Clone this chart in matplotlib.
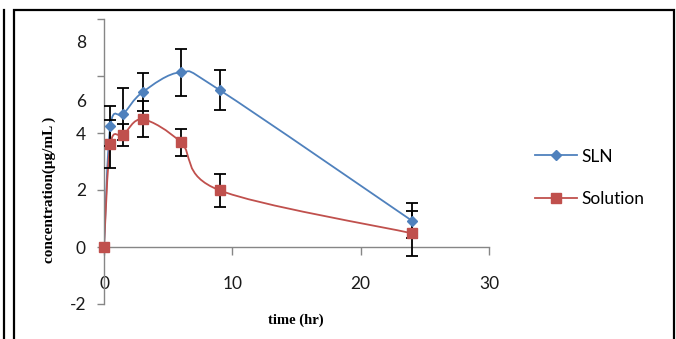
import numpy as np
import matplotlib
matplotlib.use('Agg')
import matplotlib.pyplot as plt
from matplotlib.path import Path
from matplotlib.patches import PathPatch
from matplotlib.lines import Line2D

# data
time = [0, 0.5, 1.5, 3, 6, 9, 24]
sln = [0, 4.26, 4.66, 5.43, 6.13, 5.51, 0.92]
sln_err = [0, 0.70, 0.92, 0.67, 0.82, 0.70, 0.61]
solution = [0, 3.61, 3.93, 4.48, 3.67, 1.99, 0.48]
solution_err = [0, 0.85, 0.40, 0.63, 0.47, 0.57, 0.78]

blue = '#4F81BD'
red = '#C0504D'
axis_gray = '#868686'


def smooth_path(x, y):
    # excel style smoothed line: cubic bezier through the points
    pts = np.column_stack([x, y]).astype(float)
    n = len(pts)
    verts = [pts[0]]
    codes = [Path.MOVETO]
    for i in range(n - 1):
        p0 = pts[i - 1] if i > 0 else pts[i]
        p1 = pts[i]
        p2 = pts[i + 1]
        p3 = pts[i + 2] if i + 2 < n else pts[i + 1]
        verts += [p1 + (p2 - p0) / 6, p2 - (p3 - p1) / 6, p2]
        codes += [Path.CURVE4] * 3
    return Path(verts, codes)


W, H = 676, 339
fig = plt.figure(figsize=(W / 100, H / 100), dpi=100)
ax = fig.add_axes([104 / W, 1 - 304 / H, 385 / W, 285 / H])

ax.set_xlim(0, 30)
ax.set_ylim(-2, 8)

for x, y, c in [(time, sln, blue), (time, solution, red)]:
    ax.add_patch(PathPatch(smooth_path(x, y), facecolor='none', edgecolor=c, lw=1.3, zorder=2))

ax.errorbar(time, sln, yerr=sln_err, fmt='none', ecolor='black', elinewidth=1.3, capsize=4.5, capthick=1.3, zorder=3)
ax.errorbar(time, solution, yerr=solution_err, fmt='none', ecolor='black', elinewidth=1.3, capsize=4.5, capthick=1.3, zorder=3)
ax.plot(time, sln, linestyle='none', marker='D', markersize=5, color=blue, zorder=4, clip_on=False)
ax.plot(time, solution, linestyle='none', marker='s', markersize=7, color=red, zorder=4, clip_on=False)

# axes styling
for s in ['top', 'right']:
    ax.spines[s].set_visible(False)
ax.spines['bottom'].set_position(('data', 0))
ax.spines['left'].set_color(axis_gray)
ax.spines['bottom'].set_color(axis_gray)
ax.spines['left'].set_linewidth(1.0)
ax.spines['bottom'].set_linewidth(1.0)

label_font = {'family': ['Lato', 'DejaVu Sans'], 'size': 12.5}
ax.set_xticks([0, 10, 20, 30])
ax.set_xticklabels(['0', '10', '20', '30'], **label_font)
ax.set_yticks([-2, 0, 2, 4, 6, 8])
ax.set_yticklabels(['-2', '0', '2', '4', '', ''], **label_font)
# the "8" and "6" labels sit off their ticks in the original
ax.set_yticks([5.15, 7.2], minor=True)
ax.set_yticklabels(['6', '8'], minor=True, **label_font)
ax.tick_params(axis='x', direction='out', length=6, width=1.0, color=axis_gray, pad=15, labelcolor='#1a1a1a')
ax.tick_params(axis='y', which='major', direction='out', length=5, width=1.0, color=axis_gray, pad=8, labelcolor='#1a1a1a')
ax.tick_params(axis='y', which='minor', length=0, pad=13, labelcolor='#1a1a1a')

fig.text(49 / W, 1 - 190 / H, 'concentration(μg/mL )', rotation=90, ha='center', va='center',
         family=['Liberation Serif', 'DejaVu Serif'], fontweight='bold', fontsize=11)
fig.text(296 / W, 1 - 320 / H, 'time (hr)', ha='center', va='center',
         family=['Liberation Serif', 'DejaVu Serif'], fontweight='bold', fontsize=10.5)

handles = [Line2D([], [], color=blue, lw=1.3, marker='D', markersize=5),
           Line2D([], [], color=red, lw=1.3, marker='s', markersize=7)]
fig.legend(handles, ['SLN', 'Solution'], loc='center left', bbox_to_anchor=(535 / W, 1 - 178 / H),
           frameon=False, borderpad=0, borderaxespad=0, handlelength=2.4, handletextpad=0.3,
           labelspacing=1.55, prop={'family': ['Lato', 'DejaVu Sans'], 'size': 12.5})

# page frame lines
def fig_line(xs, ys):
    fig.add_artist(Line2D([x / W for x in xs], [1 - y / H for y in ys], color='black', lw=1.6,
                          transform=fig.transFigure, solid_joinstyle='miter'))

fig_line([4, 4], [10, 340])
fig_line([14, 14, 674, 674], [340, 10, 10, 340])

fig.savefig('out.png', dpi=100)
